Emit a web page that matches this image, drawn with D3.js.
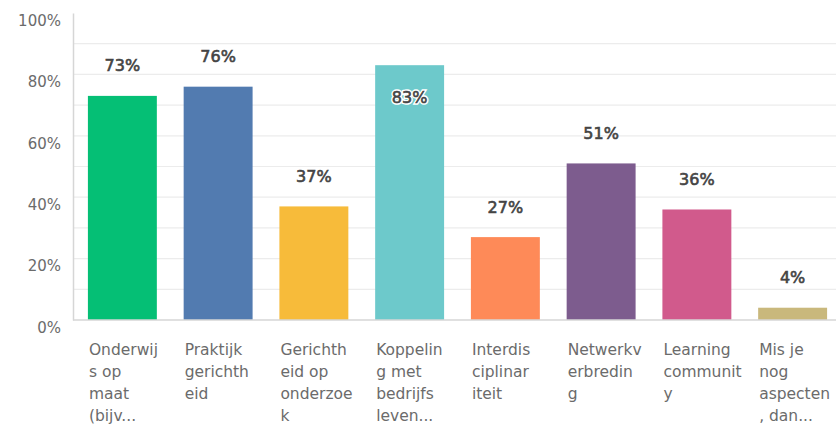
<!DOCTYPE html>
<html><head><meta charset="utf-8">
<script src="https://cdn.jsdelivr.net/npm/d3@7"></script>
<style>body{margin:0;background:#fff}svg{display:block}</style>
</head><body>
<svg id="c" width="836" height="424"></svg>
<script>
const categories = [
  "Onderwijs op maat (bijv...",
  "Praktijkgerichtheid",
  "Gerichtheid op onderzoek",
  "Koppeling met bedrijfs leven...",
  "Interdisciplinariteit",
  "Netwerkverbreding",
  "Learning community",
  "Mis je nog aspecten, dan..."
];
const categoryLines = [
  ["Onderwij","s op","maat","(bijv..."],
  ["Praktijk","gerichth","eid"],
  ["Gerichth","eid op","onderzoe","k"],
  ["Koppelin","g met","bedrijfs","leven..."],
  ["Interdis","ciplinar","iteit"],
  ["Netwerkv","erbredin","g"],
  ["Learning","communit","y"],
  ["Mis je","nog","aspecten",", dan..."]
];
const values = [73, 76, 37, 83, 27, 51, 36, 4];
const colors = ["#05bf75","#527bb0","#f7bb3a","#6dc9cb","#fe8a58","#7d5c8e","#d15a8c","#c9b87c"];
const yTicks = [0, 20, 40, 60, 80, 100];
const gridTicks = [10, 20, 30, 40, 50, 60, 70, 80, 90];

const svg = d3.select("#c");
const x = d3.scaleBand().domain(categories).range([74.5, 840.5]).paddingInner(0.28).paddingOuter(0.14);
const y = d3.scaleLinear().domain([0, 100]).range([320, 13]);

// gridlines
svg.append("g").selectAll("line").data(gridTicks).join("line")
  .attr("x1", 73).attr("x2", 836)
  .attr("y1", d => y(d)).attr("y2", d => y(d))
  .attr("stroke", "#ececec").attr("stroke-width", 1.2);

// y axis
const yAxis = d3.axisLeft(y).tickValues(yTicks).tickFormat(d => d + "%").tickSize(0).tickPadding(12);
const ga = svg.append("g").attr("transform", "translate(73,0)").call(yAxis);
ga.select(".domain").attr("stroke", "#d6d6d6").attr("stroke-width", 1.5);
ga.selectAll("text").attr("font-family", "DejaVu Sans").attr("font-size", 15)
  .attr("fill", "#6b6b6b").attr("dy", "0.82em").attr("dx", "0");

// bars
svg.append("g").selectAll("rect").data(values).join("rect")
  .attr("x", (d, i) => x(categories[i]))
  .attr("width", x.bandwidth())
  .attr("y", d => y(d))
  .attr("height", d => y(0) - y(d))
  .attr("fill", (d, i) => colors[i]);

// baseline
svg.append("line").attr("x1", 73).attr("x2", 836).attr("y1", y(0)).attr("y2", y(0))
  .attr("stroke", "#d6d6d6").attr("stroke-width", 1.5);

// value labels
const labelY = d => d > 80 ? y(d) + 32 + 6 : y(d) - 30.5 + 6;
const labelX = (d, i) => x(categories[i]) + x.bandwidth() / 2;
// halo for labels inside bars
svg.append("g").selectAll("text").data(values).join("text")
  .attr("x", labelX).attr("y", labelY)
  .attr("text-anchor", "middle")
  .attr("font-family", "DejaVu Sans").attr("font-size", 16)
  .attr("fill", "#fff")
  .attr("stroke", "#fff").attr("stroke-width", d => d > 80 ? 3.5 : 0)
  .attr("opacity", d => d > 80 ? 1 : 0)
  .text(d => d + "%");
svg.append("g").selectAll("text").data(values).join("text")
  .attr("x", labelX).attr("y", labelY)
  .attr("text-anchor", "middle")
  .attr("font-family", "DejaVu Sans").attr("font-size", 16)
  .attr("fill", "#444").attr("stroke", "#444").attr("stroke-width", 0.6)
  .text(d => d + "%");

// category labels
const cl = svg.append("g").selectAll("text").data(categoryLines).join("text")
  .attr("font-family", "DejaVu Sans").attr("font-size", 15.5)
  .attr("fill", "#6b6b6b");
cl.each(function(lines, i) {
  d3.select(this).selectAll("tspan").data(lines).join("tspan")
    .attr("x", x(categories[i]) + 1)
    .attr("y", (l, j) => 354.5 + j * 22.3)
    .text(l => l);
});
</script>
</body></html>
